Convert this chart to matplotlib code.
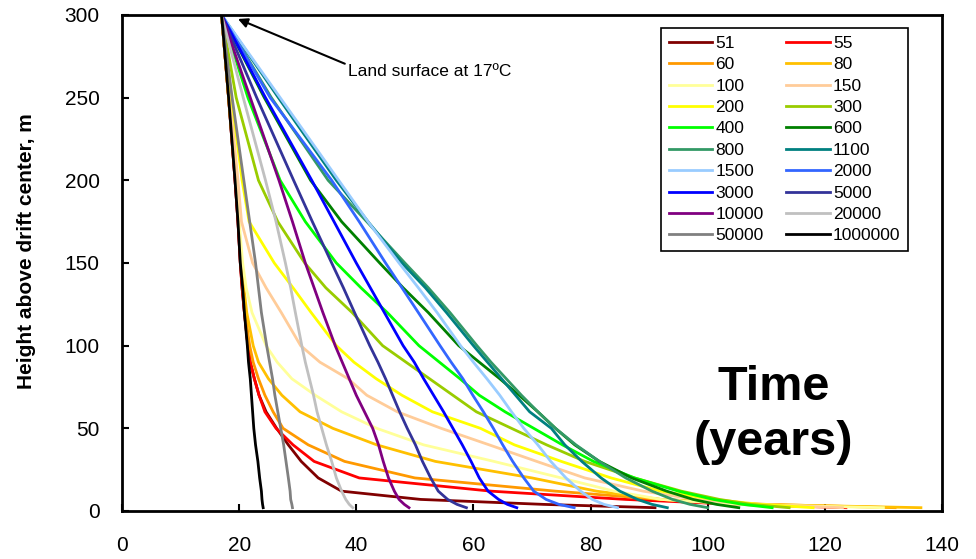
import matplotlib
matplotlib.use("Agg")
import matplotlib.pyplot as plt

plt.rcParams['font.family'] = ['Liberation Sans', 'DejaVu Sans']

# Heights (m above drift center) shared by all profiles
heights = [300, 250, 200, 175, 150, 135, 120, 100, 90, 80, 70, 60, 50, 40, 30, 20, 12, 7, 4, 2]

# Temperature (deg C) at each height, one list per time (years)
t51      = [17, 18.2, 19.3, 19.8, 20.2, 20.5, 20.9, 21.5, 21.9, 22.6, 23.4, 24.6, 26.4, 28.4, 30.6, 33.5, 37.5, 51.0, 72.0, 91.0]
t55      = [17, 18.2, 19.3, 19.8, 20.2, 20.5, 20.9, 21.5, 21.9, 22.6, 23.4, 24.4, 26.3, 29.2, 32.8, 40.5, 63.0, 86.0, 105.0, 123.6]
t60      = [17, 18.2, 19.4, 19.9, 20.3, 20.6, 21.0, 21.8, 22.4, 23.3, 24.4, 25.8, 27.5, 31.8, 38.0, 50.0, 74.0, 92.0, 110.0, 132.0]
t80      = [17, 18.2, 19.4, 19.9, 20.4, 20.8, 21.3, 22.4, 23.3, 25.0, 27.3, 30.4, 36.0, 43.5, 53.5, 70.0, 81.0, 92.0, 108.0, 136.4]
t100     = [17, 18.3, 19.5, 20.0, 20.6, 21.2, 22.2, 24.6, 26.5, 29.0, 33.0, 37.5, 43.5, 51.5, 63.5, 75.0, 84.0, 92.0, 105.0, 130.0]
t150     = [17, 18.4, 19.8, 20.4, 22.3, 24.6, 27.2, 30.5, 33.8, 38.6, 41.8, 47.0, 54.5, 62.7, 70.8, 79.0, 89.0, 98.0, 108.0, 123.0]
t200     = [17, 18.7, 20.5, 21.7, 26.0, 29.2, 32.3, 36.6, 39.6, 43.4, 47.8, 53.0, 61.2, 67.0, 75.0, 83.5, 92.0, 101.0, 109.0, 118.0]
t300     = [17, 19.5, 23.3, 26.6, 31.2, 34.8, 39.3, 44.5, 48.5, 52.5, 56.5, 60.5, 66.5, 72.5, 79.0, 87.5, 95.5, 102.0, 107.5, 113.9]
t400     = [17, 21.5, 27.0, 31.3, 36.6, 40.8, 45.3, 50.7, 54.2, 57.7, 61.0, 65.4, 70.3, 75.2, 80.5, 87.5, 95.0, 101.0, 106.0, 111.0]
t600     = [17, 24.3, 32.2, 37.5, 44.0, 48.0, 52.3, 57.5, 61.0, 64.5, 67.8, 71.0, 74.0, 77.3, 81.5, 87.0, 93.0, 97.5, 101.5, 105.3]
t800     = [17, 25.5, 35.2, 41.8, 48.3, 52.3, 56.0, 60.6, 63.0, 65.6, 68.2, 71.0, 74.0, 77.5, 81.5, 86.0, 90.5, 94.0, 97.0, 100.0]
t1100    = [17, 26.7, 36.6, 42.0, 47.8, 51.8, 55.4, 60.0, 62.4, 64.8, 67.2, 69.6, 73.3, 75.6, 78.5, 81.8, 85.0, 88.0, 90.5, 93.1]
t1500    = [17, 27.0, 37.0, 42.0, 47.3, 50.6, 53.8, 57.8, 60.0, 62.3, 64.5, 66.5, 68.6, 71.0, 73.2, 75.8, 78.3, 80.3, 82.3, 84.6]
t2000    = [17, 25.3, 35.8, 40.5, 45.0, 47.8, 50.6, 54.3, 56.2, 58.2, 59.9, 61.7, 63.4, 65.0, 66.7, 68.6, 70.3, 72.4, 74.6, 77.2]
t3000    = [17, 24.5, 32.4, 36.2, 40.0, 42.4, 44.8, 48.0, 49.9, 51.5, 53.2, 54.9, 56.5, 58.1, 59.6, 61.0, 62.5, 64.3, 65.8, 67.4]
t5000    = [17, 23.0, 29.3, 32.5, 35.8, 37.8, 39.7, 42.3, 43.7, 45.0, 46.2, 47.4, 48.7, 50.1, 51.3, 52.7, 54.0, 55.6, 57.2, 58.8]
t10000   = [17, 21.9, 26.8, 29.1, 31.3, 32.8, 34.3, 36.4, 37.6, 38.8, 40.0, 41.4, 42.8, 43.8, 44.6, 45.5, 46.5, 47.3, 48.2, 49.0]
t20000   = [17, 20.7, 24.5, 26.3, 27.9, 28.8, 29.6, 30.7, 31.3, 32.0, 32.7, 33.3, 34.1, 34.9, 35.8, 36.6, 37.5, 38.2, 38.8, 39.4]
t50000   = [17, 18.8, 20.8, 21.8, 22.8, 23.3, 23.8, 24.7, 25.2, 25.7, 26.1, 26.6, 27.1, 27.6, 28.0, 28.4, 28.7, 28.8, 29.0, 29.1]
t1000000 = [17, 18.2, 19.3, 19.8, 20.2, 20.6, 20.9, 21.4, 21.6, 21.9, 22.1, 22.3, 22.5, 22.8, 23.2, 23.5, 23.8, 23.9, 24.0, 24.1]

labels = ["51", "55", "60", "80", "100", "150", "200", "300", "400", "600",
          "800", "1100", "1500", "2000", "3000", "5000", "10000", "20000",
          "50000", "1000000"]
series = [t51, t55, t60, t80, t100, t150, t200, t300, t400, t600,
          t800, t1100, t1500, t2000, t3000, t5000, t10000, t20000,
          t50000, t1000000]
colors = ["#800000", "#FF0000", "#FF9900", "#FFC000", "#FFFF99", "#FFCC99",
          "#FFFF00", "#99CC00", "#00FF00", "#008000", "#339966", "#008080",
          "#99CCFF", "#3366FF", "#0000FF", "#333399", "#800080", "#C0C0C0",
          "#808080", "#000000"]

xticks = [0, 20, 40, 60, 80, 100, 120, 140]
yticks = [0, 50, 100, 150, 200, 250, 300]

fig = plt.figure(figsize=(9.76, 5.59), dpi=100)
ax = fig.add_axes([122/976, 48/559, 820/976, 496/559])

handles = []
for lab, vals, c in zip(labels, series, colors):
    h, = ax.plot(vals, heights, color=c, lw=2.0, label=lab,
                 solid_joinstyle='round')
    handles.append(h)

ax.set_xlim(0, 140)
ax.set_ylim(0, 300)
ax.set_xticks(xticks)
ax.set_yticks(yticks)
ax.tick_params(direction='in', length=5, width=1.5, labelsize=15)
ax.tick_params(axis='x', pad=18)
ax.tick_params(axis='y', pad=16)
for s in ax.spines.values():
    s.set_linewidth(2.0)

ax.set_ylabel("Height above drift center, m", fontsize=15, fontweight='bold')
ax.yaxis.set_label_coords(-0.105, 0.523)

# Legend: row-major order like the original
order = list(range(0, 20, 2)) + list(range(1, 20, 2))
leg = ax.legend([handles[i] for i in order], [labels[i] for i in order],
                ncol=2, loc='upper left', bbox_to_anchor=(0.657, 0.974),
                borderaxespad=0, fontsize=12.5, handlelength=2.5,
                handletextpad=0.2, columnspacing=1.3, labelspacing=0.36,
                borderpad=0.45, fancybox=False, framealpha=1)
leg.get_frame().set_edgecolor('black')
leg.get_frame().set_linewidth(1.2)

ax.annotate("Land surface at 17ºC", xy=(19.8, 297.6), xytext=(38.6, 266),
            fontsize=12.5, ha='left', va='center',
            arrowprops=dict(arrowstyle='-|>', color='black', lw=1.5,
                            mutation_scale=14, shrinkA=0, shrinkB=0,
                            relpos=(-0.02, 1.0)))

ax.text(111.2, 58, "Time\n(years)", fontsize=35, fontweight='bold',
        ha='center', va='center', linespacing=1.3)

fig.savefig("out.png", dpi=100)
